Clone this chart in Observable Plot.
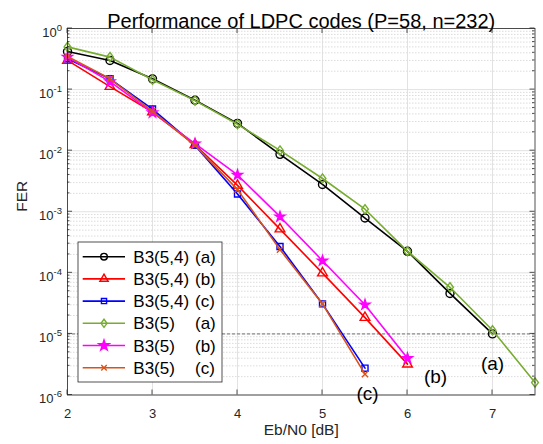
<!DOCTYPE html>
<html><head><meta charset="utf-8">
<script src="https://cdn.jsdelivr.net/npm/d3@7"></script>
<script src="https://cdn.jsdelivr.net/npm/@observablehq/plot@0.6"></script>
<style>
html,body{margin:0;padding:0;background:#fff;}
#chart svg{display:block;}
</style></head><body><div id="chart"></div>
<script>
// ---- data ----
const ebn0 = [2, 2.5, 3, 3.5, 4, 4.5, 5, 5.5, 6, 6.5, 7, 7.5];
const ferB354a = [0.42, 0.30, 0.15, 0.067, 0.028, 0.0087, 0.0028, 0.00079, 0.000225, 4.6e-5, 1.0e-5];
const ferB354b = [0.30, 0.112, 0.043, 0.0125, 0.0027, 0.00052, 9.9e-5, 1.85e-5, 3.2e-6];
const ferB354c = [0.32, 0.15, 0.048, 0.0122, 0.00195, 0.00027, 3.1e-5, 2.75e-6];
const ferB35a  = [0.50, 0.34, 0.145, 0.066, 0.027, 0.0101, 0.0035, 0.0011, 0.000225, 5.8e-5, 1.15e-5, 1.6e-6];
const ferB35b  = [0.34, 0.135, 0.042, 0.013, 0.0040, 0.00083, 0.000158, 3.0e-5, 4.0e-6];
const ferB35c  = [0.35, 0.15, 0.044, 0.0122, 0.0023, 0.00024, 3.1e-5, 2.2e-6];

const seriesValues = [ferB354a, ferB354b, ferB354c, ferB35a, ferB35b, ferB35c];
const seriesNames = ["B3(5,4)", "B3(5,4)", "B3(5,4)", "B3(5)", "B3(5)", "B3(5)"];
const seriesTags = ["(a)", "(b)", "(c)", "(a)", "(b)", "(c)"];
const seriesColors = ["#000000", "#ff0000", "#0000ff", "#77ac30", "#ff00ff", "#d95319"];
const seriesSymbols = ["circle", "triangle", "square", "diamond", "star", "times"];

const xTicks = [2, 3, 4, 5, 6, 7];
const yDecades = [1, 1e-1, 1e-2, 1e-3, 1e-4, 1e-5, 1e-6];
const yMinor = [];
for (let k = -6; k < 0; k++) for (let m = 2; m <= 9; m++) yMinor.push(m * Math.pow(10, k));

const annotX = [7.0, 6.33, 5.53];
const annotY = [3.2e-6, 2.0e-6, 1.03e-6];
const annotText = ["(a)", "(b)", "(c)"];

const titleText = "Performance of LDPC codes (P=58, n=232)";
const xLabel = "Eb/N0 [dB]";
const yLabel = "FER";

// ---- symbols ----
const diamondSym = {
  draw(ctx, size) {
    const r = Math.sqrt(size / Math.PI);
    const h = r * 1.15, w = r * 0.85;
    ctx.moveTo(0, -h); ctx.lineTo(w, 0); ctx.lineTo(0, h); ctx.lineTo(-w, 0); ctx.closePath();
  }
};
const symObj = {circle: d3.symbolCircle, triangle: d3.symbolTriangle, square: d3.symbolSquare,
  diamond: diamondSym, star: d3.symbolStar, times: d3.symbolTimes};
const plotR = {circle: 4, triangle: 3.6, square: 3.4, diamond: 4, star: 3.1, times: 2.9};
const legR = {circle: 3.3, triangle: 3.1, square: 2.9, diamond: 3.5, star: 3.3, times: 2.6};

const tables = seriesValues.map((vals, i) => vals.map((v, j) => ({x: ebn0[j], y: v, s: i})));

const font = "Liberation Sans, Arial, Helvetica, sans-serif";
const marks = [
  Plot.gridY(yMinor, {stroke: "#c4c4c4", strokeOpacity: 1, strokeWidth: 0.6, strokeDasharray: "1.5,1.5"}),
  Plot.gridY(yDecades, {stroke: "#dadada", strokeOpacity: 1, strokeWidth: 0.8}),
  Plot.gridX(xTicks, {stroke: "#dadada", strokeOpacity: 1, strokeWidth: 0.8}),
  Plot.ruleY([1e-5], {stroke: "#404040", strokeWidth: 0.7, strokeDasharray: "3,2"})
];
tables.forEach((t, i) => {
  const sym = seriesSymbols[i];
  marks.push(Plot.line(t, {x: "x", y: "y", stroke: seriesColors[i], strokeWidth: 1.6}));
  marks.push(Plot.dot(t, {x: "x", y: "y", symbol: symObj[sym], r: plotR[sym],
    stroke: seriesColors[i], strokeWidth: 1.4,
    fill: sym === "star" ? seriesColors[i] : "none"}));
});
marks.push(
  Plot.frame({stroke: "#262626", strokeWidth: 0.8}),
  Plot.axisX({ticks: xTicks, tickSize: 0, tickPadding: 13.5, fontSize: 13, label: null, color: "#262626",
    tickFormat: d => String(d)}),
  Plot.axisY({ticks: yDecades, tickSize: 0, tickPadding: 5.5, fontSize: 13, label: null, color: "#262626",
    tickFormat: d => String(Math.round(Math.log10(d)))}),
  Plot.text([titleText], {frameAnchor: "top", dy: -15, text: d => d, fontSize: 20, fill: "#000"}),
  Plot.text([xLabel], {frameAnchor: "bottom", dy: 39.5, text: d => d, fontSize: 15.5, fill: "#262626"}),
  Plot.text([yLabel], {frameAnchor: "left", dx: -45, rotate: -90, text: d => d, fontSize: 15.5, fill: "#262626"}),
  Plot.text(annotText, {x: (d, i) => annotX[i], y: (d, i) => annotY[i], text: d => d, fontSize: 19, fill: "#000"})
);

const chart = Plot.plot({
  width: 543, height: 444,
  marginLeft: 67, marginRight: 8.5, marginTop: 28, marginBottom: 49.5,
  style: {fontFamily: font, background: "#fff", overflow: "visible"},
  x: {type: "linear", domain: [2, 7.5]},
  y: {type: "log", domain: [1e-6, 1]},
  marks
});
document.getElementById("chart").appendChild(chart);

const svg = d3.select(chart);
// superscript tick labels
svg.selectAll('g[aria-label="y-axis tick label"] text').each(function () {
  const t = d3.select(this);
  const e = t.text();
  t.text(null).attr("y", null);
  t.append("tspan").attr("dy", 8).text("10");
  t.append("tspan").attr("dy", -6).attr("font-size", 9.5).text(e);
});

// inward ticks
const sx = chart.scale("x"), sy = chart.scale("y");
const xL = sx.apply(2), xR = sx.apply(7.5), yB = sy.apply(1e-6), yT = sy.apply(1);
const tg = svg.append("g").attr("stroke", "#262626").attr("stroke-width", 0.8);
xTicks.forEach(v => {
  const px = sx.apply(v);
  tg.append("line").attr("x1", px).attr("x2", px).attr("y1", yB).attr("y2", yB - 5);
  tg.append("line").attr("x1", px).attr("x2", px).attr("y1", yT).attr("y2", yT + 5);
});
yDecades.forEach(v => {
  const py = sy.apply(v);
  tg.append("line").attr("x1", xL).attr("x2", xL + 5).attr("y1", py).attr("y2", py);
  tg.append("line").attr("x1", xR).attr("x2", xR - 5).attr("y1", py).attr("y2", py);
});
yMinor.forEach(v => {
  const py = sy.apply(v);
  tg.append("line").attr("x1", xL).attr("x2", xL + 2.5).attr("y1", py).attr("y2", py);
  tg.append("line").attr("x1", xR).attr("x2", xR - 2.5).attr("y1", py).attr("y2", py);
});

// legend
const lx = xL + 11, ly = yT + 214, lw = 144, lh = 140, rowH = 22.2;
const lg = svg.append("g").attr("font-family", font).attr("text-anchor", "start");
lg.append("rect").attr("x", lx).attr("y", ly).attr("width", lw).attr("height", lh)
  .attr("fill", "#fff").attr("stroke", "#262626").attr("stroke-width", 0.8);
seriesNames.forEach((name, i) => {
  const cy = ly + 14.7 + i * rowH;
  const sym = seriesSymbols[i];
  lg.append("line").attr("x1", lx + 4.7).attr("x2", lx + 47).attr("y1", cy).attr("y2", cy)
    .attr("stroke", seriesColors[i]).attr("stroke-width", 1.6);
  lg.append("path").attr("transform", `translate(${lx + 26},${cy})`)
    .attr("d", d3.symbol(symObj[sym], Math.PI * legR[sym] * legR[sym])())
    .attr("stroke", seriesColors[i]).attr("stroke-width", 1.4)
    .attr("fill", sym === "star" ? seriesColors[i] : "none");
  lg.append("text").attr("x", lx + 55.3).attr("y", cy).attr("dy", "0.36em")
    .attr("font-size", 17).attr("fill", "#000").attr("text-anchor", "start").text(name);
  lg.append("text").attr("x", lx + 117).attr("y", cy).attr("dy", "0.36em")
    .attr("font-size", 17).attr("fill", "#000").attr("text-anchor", "start").text(seriesTags[i]);
});
</script>
</body></html>
